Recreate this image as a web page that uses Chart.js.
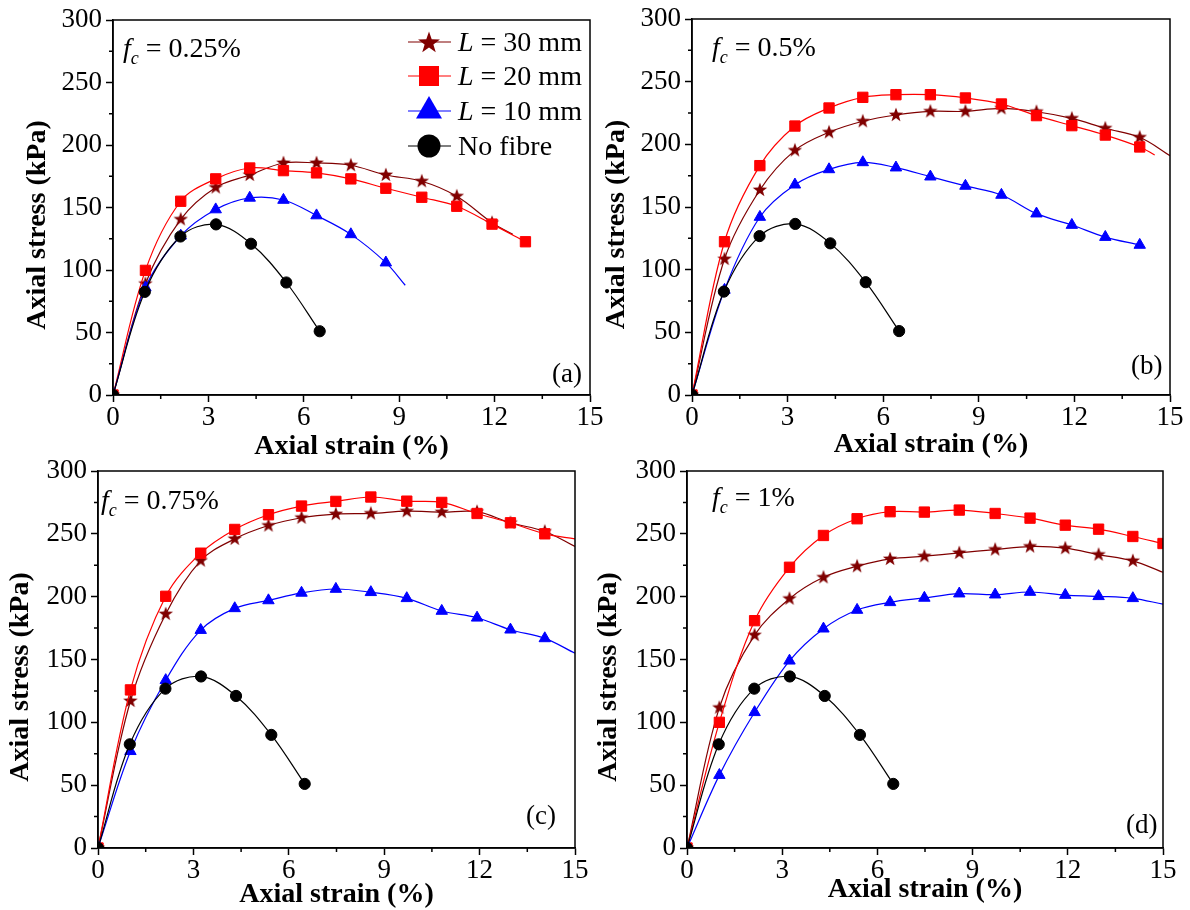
<!DOCTYPE html>
<html>
<head>
<meta charset="utf-8">
<title>Axial stress vs axial strain</title>
<script src="https://cdn.jsdelivr.net/npm/chart.js@4.4.0/dist/chart.umd.min.js"></script>
<style>
  body { margin: 0; background: #fff; }
  #page { position: relative; width: 1190px; height: 910px; overflow: hidden; font-family: 'Liberation Serif', 'Times New Roman', serif; color: #000; }
  #page canvas { position: absolute; left: 0; top: 0; }
  .note { position: absolute; font-size: 28px; line-height: 32px; height: 32px; white-space: nowrap; }
  .note sub { font-size: 18px; vertical-align: -7px; line-height: 0; }
  .tag { font-size: 27px; }
</style>
</head>
<body>
<div id="page">
  <canvas id="chartA" width="1190" height="910"></canvas>
  <canvas id="chartB" width="1190" height="910"></canvas>
  <canvas id="chartC" width="1190" height="910"></canvas>
  <canvas id="chartD" width="1190" height="910"></canvas>

  <div class="note" style="left:123px; top:32px"><i>f</i><sub><i>c</i></sub> = 0.25%</div>
  <div class="note" style="left:712px; top:31px"><i>f</i><sub><i>c</i></sub> = 0.5%</div>
  <div class="note" style="left:101px; top:484px"><i>f</i><sub><i>c</i></sub> = 0.75%</div>
  <div class="note" style="left:712px; top:481px"><i>f</i><sub><i>c</i></sub> = 1%</div>

  <div class="note tag" style="left:552px; top:357px">(a)</div>
  <div class="note tag" style="left:1131px; top:349px">(b)</div>
  <div class="note tag" style="left:526px; top:799px">(c)</div>
  <div class="note tag" style="left:1126px; top:808px">(d)</div>

  <div class="note" style="left:458px; top:26px"><i>L</i> = 30 mm</div>
  <div class="note" style="left:458px; top:60px"><i>L</i> = 20 mm</div>
  <div class="note" style="left:458px; top:95px"><i>L</i> = 10 mm</div>
  <div class="note" style="left:458px; top:130px">No fibre</div>
</div>

<script>
// strain (%) at the plotted markers, shared by the fibre series
const strain = [0, 1.02, 2.13, 3.23, 4.30, 5.36, 6.40, 7.48, 8.58, 9.71, 10.81, 11.92, 12.97, 14.05, 15.0];

// unreinforced sample (same curve in every panel)
const strainNoFibre = [0, 1.0, 2.12, 3.24, 4.34, 5.45, 6.5];
const stressNoFibre = [0, 82.5, 126.8, 136.5, 121, 90, 51];

// (a) fc = 0.25%
const a30 = [0, 89, 140.5, 166, 176, 185.6, 185.6, 183.8, 176, 171, 159, 137.8];
const a20 = [0, 99.7, 155, 172.9, 181.6, 179.5, 177.7, 172.9, 165.4, 158.2, 151, 136.7, 122.6];
const a10 = [0, 85.9, 127.4, 148.4, 157.7, 156, 143.6, 128.5, 105.9];
const a30End = [12.57, 128.5];
const a10End = [9.19, 87.8];

// (b) fc = 0.5%
const b30 = [0, 108.5, 163.6, 195.2, 209.6, 218.4, 223.4, 226.3, 226.3, 228.7, 226, 220.7, 212.8, 205.6];
const b20 = [0, 122.3, 183, 214.6, 229, 237.5, 239.6, 239.6, 237, 232.2, 222.9, 214.9, 207.4, 197.9];
const b10 = [0, 83.8, 142, 167.8, 180, 185.6, 181.4, 174.2, 166.8, 159.6, 144.7, 135.6, 126, 119.7];
const b30End = [15, 191];
const b20End = [14.52, 191.5];

// (c) fc = 0.75%
const c30 = [0, 117, 186.2, 228.7, 246, 256.6, 262.8, 265.7, 266.2, 268, 267.3, 267.6, 258.8, 251.9];
const c20 = [0, 125.8, 200.3, 234.6, 253.5, 265.2, 272.1, 275.8, 279.3, 276, 275, 266.2, 258.8, 250];
const c10 = [0, 77, 133.5, 173.4, 190.7, 197, 203, 206.1, 203.5, 198.7, 188.6, 183.2, 173.7, 166.8];
const c30End = [15, 240];
const c20End = [15, 246];
const c10End = [15, 155];

// (d) fc = 1%
const d30 = [0, 111.7, 169.4, 198.4, 215.4, 224.2, 230, 232.2, 234.8, 237.5, 239.9, 238.6, 233.5, 228.5];
const d20 = [0, 100, 180.9, 223.4, 248.7, 262, 267.6, 267.3, 268.9, 266.2, 262.5, 256.9, 253.7, 247.9, 242.3];
const d10 = [0, 58, 108, 149, 174.5, 189.4, 195.5, 199, 202.4, 201.6, 203.7, 201.3, 200.3, 198.7];
const d30End = [15, 219.4];
const d10End = [15, 194];

const xTicks = [0, 15, 3];    // min, max, step
const yTicks = [0, 300, 50];

const maroon = '#800000';
const red = '#ff0000';
const blue = '#0000ff';
const black = '#000000';

Chart.defaults.font.family = "'Liberation Serif', 'Times New Roman', serif";
Chart.defaults.color = '#000';

function starPath(ctx, cx, cy, outer, inner) {
    ctx.beginPath();
    for (let i = 0; i < 10; i++) {
        const r = i % 2 ? inner : outer;
        const ang = -Math.PI / 2 + i * Math.PI / 5;
        const px = cx + r * Math.cos(ang);
        const py = cy + r * Math.sin(ang);
        if (i === 0) ctx.moveTo(px, py); else ctx.lineTo(px, py);
    }
    ctx.closePath();
}

function makeStar(outer, inner, color) {
    const c = document.createElement('canvas');
    const size = Math.ceil(outer * 2) + 2;
    c.width = size;
    c.height = size;
    const ctx = c.getContext('2d');
    starPath(ctx, size / 2, size / 2, outer, inner);
    ctx.fillStyle = color;
    ctx.fill();
    return c;
}

const starImg = makeStar(7.6, 3.1, maroon);

function series(label, xs, ys, end, color, style, radius, order) {
    const data = ys.map((y, i) => ({ x: xs[i], y: y }));
    const nMarks = data.length;
    if (end) data.push({ x: end[0], y: end[1] });
    return {
        label: label,
        data: data,
        order: order,
        borderColor: color,
        backgroundColor: color,
        borderWidth: 1.2,
        tension: 0.35,
        pointStyle: style,
        pointRadius: ctx => (ctx.dataIndex < nMarks ? radius : 0),
        pointHoverRadius: 0,
        pointBackgroundColor: color,
        pointBorderColor: color,
        pointBorderWidth: 1
    };
}

function panelSets(s30, e30, s20, e20, s10, e10) {
    return [
        series('L = 30 mm', strain, s30, e30, maroon, starImg, 6, 4),
        series('L = 20 mm', strain, s20, e20, red, 'rect', 7.3, 3),
        series('L = 10 mm', strain, s10, e10, blue, 'triangle', 6.6, 2),
        series('No fibre', strainNoFibre, stressNoFibre, null, black, 'circle', 5.6, 1)
    ];
}

// box frame + minor ticks
const framePlugin = {
    id: 'frame',
    afterDatasetsDraw(chart) {
        const { ctx, chartArea: a, scales } = chart;
        ctx.save();
        ctx.strokeStyle = '#000';
        ctx.lineWidth = 1.5;
        ctx.strokeRect(a.left, a.top, a.right - a.left, a.bottom - a.top);
        ctx.beginPath();
        for (let v = xTicks[2] / 2; v < xTicks[1]; v += xTicks[2]) {
            const px = scales.x.getPixelForValue(v);
            ctx.moveTo(px, a.bottom);
            ctx.lineTo(px, a.bottom + 4);
        }
        for (let v = yTicks[2] / 2; v < yTicks[1]; v += yTicks[2]) {
            const py = scales.y.getPixelForValue(v);
            ctx.moveTo(a.left, py);
            ctx.lineTo(a.left - 4, py);
        }
        ctx.stroke();
        ctx.restore();
    }
};

// legend symbols (line through marker) for panel (a)
const legendPlugin = {
    id: 'legendSymbols',
    afterDraw(chart) {
        if (!chart.options.plugins.legendSymbols) return;
        const ctx = chart.ctx;
        const rows = [42, 76, 111, 146];
        const colors = [maroon, red, blue, black];
        ctx.save();
        rows.forEach((y, i) => {
            ctx.strokeStyle = colors[i];
            ctx.fillStyle = colors[i];
            ctx.lineWidth = 1.2;
            ctx.beginPath();
            ctx.moveTo(408, y);
            ctx.lineTo(451, y);
            ctx.stroke();
            const cx = 429;
            if (i === 0) {
                starPath(ctx, cx, y + 1, 11.5, 4.6);
                ctx.fill();
            } else if (i === 1) {
                ctx.fillRect(cx - 10, y - 10, 20, 20);
            } else if (i === 2) {
                const r = 15;
                ctx.beginPath();
                ctx.moveTo(cx, y - r);
                ctx.lineTo(cx + r * Math.sin(2 * Math.PI / 3), y - r * Math.cos(2 * Math.PI / 3));
                ctx.lineTo(cx + r * Math.sin(4 * Math.PI / 3), y - r * Math.cos(4 * Math.PI / 3));
                ctx.closePath();
                ctx.fill();
            } else {
                ctx.beginPath();
                ctx.arc(cx, y, 11.5, 0, Math.PI * 2);
                ctx.fill();
            }
        });
        ctx.restore();
    }
};

function makeChart(id, area, sets, yTitlePad, xAxisH, xTitlePad, withLegend) {
    const yAxisW = 92;
    const ctx = document.getElementById(id).getContext('2d');
    return new Chart(ctx, {
        type: 'line',
        data: { datasets: sets },
        options: {
            responsive: false,
            animation: false,
            events: [],
            layout: {
                padding: {
                    left: area[0] - yAxisW,
                    top: area[1],
                    right: 1190 - area[2],
                    bottom: 910 - area[3] - xAxisH
                }
            },
            plugins: {
                legend: { display: false },
                tooltip: { enabled: false },
                legendSymbols: withLegend
            },
            scales: {
                x: {
                    type: 'linear',
                    min: xTicks[0],
                    max: xTicks[1],
                    ticks: {
                        stepSize: xTicks[2],
                        maxRotation: 0,
                        padding: 2,
                        color: '#000',
                        font: { size: 27, lineHeight: 1 }
                    },
                    grid: {
                        drawOnChartArea: false,
                        tickLength: 7,
                        tickColor: '#000',
                        tickWidth: 1.5
                    },
                    border: { color: '#000', width: 1.5 },
                    title: {
                        display: true,
                        text: 'Axial strain (%)',
                        color: '#000',
                        font: { size: 28, weight: 'bold', lineHeight: 1 },
                        padding: { top: 0, bottom: xTitlePad }
                    },
                    afterFit: s => { s.height = xAxisH; }
                },
                y: {
                    min: yTicks[0],
                    max: yTicks[1],
                    ticks: {
                        stepSize: yTicks[2],
                        padding: 4,
                        color: '#000',
                        font: { size: 27, lineHeight: 1 }
                    },
                    grid: {
                        drawOnChartArea: false,
                        tickLength: 7,
                        tickColor: '#000',
                        tickWidth: 1.5
                    },
                    border: { color: '#000', width: 1.5 },
                    title: {
                        display: true,
                        text: 'Axial stress (kPa)     ',
                        color: '#000',
                        font: { size: 28, weight: 'bold', lineHeight: 1 },
                        padding: { top: yTitlePad, bottom: 0 }
                    },
                    afterFit: s => { s.width = yAxisW; }
                }
            }
        },
        plugins: [framePlugin, legendPlugin]
    });
}

window.onload = () => {
    makeChart('chartA', [113, 20, 590, 395], panelSets(a30, a30End, a20, null, a10, a10End), 2.5, 66, 0, true);
    makeChart('chartB', [692, 19, 1170, 395], panelSets(b30, b30End, b20, b20End, b10, null), 3, 66, 2, false);
    makeChart('chartC', [98, 471, 575, 848], panelSets(c30, c30End, c20, c20End, c10, c10End), 1, 62, 1, false);
    makeChart('chartD', [687, 471, 1163, 848], panelSets(d30, d30End, d20, null, d10, d10End), 0, 62, 6, false);
};
</script>
</body>
</html>
